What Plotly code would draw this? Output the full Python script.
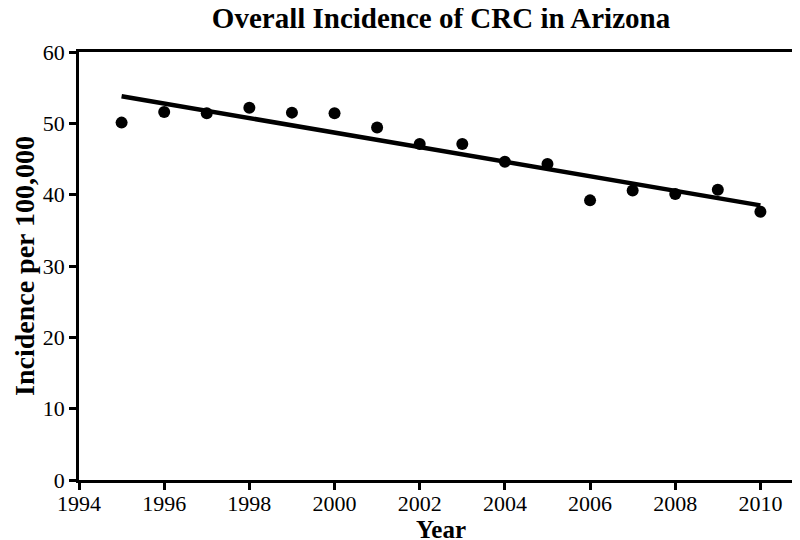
import plotly.graph_objects as go

years = [1995, 1996, 1997, 1998, 1999, 2000, 2001, 2002, 2003, 2004, 2005, 2006, 2007, 2008, 2009, 2010]
incidence = [50.1, 51.6, 51.4, 52.2, 51.5, 51.4, 49.4, 47.1, 47.1, 44.6, 44.3, 39.2, 40.6, 40.1, 40.7, 37.6]

# fitted trend line, endpoints
trend_years = [1995, 2010]
trend_values = [53.8, 38.5]

font = "Liberation Serif, Times New Roman, serif"

fig = go.Figure()
fig.add_trace(go.Scatter(x=trend_years, y=trend_values, mode="lines",
                         line=dict(color="black", width=4.5), showlegend=False))
fig.add_trace(go.Scatter(x=years, y=incidence, mode="markers",
                         marker=dict(color="black", size=12), showlegend=False))

fig.update_layout(
    width=800, height=540,
    margin=dict(l=71, r=2, t=44, b=68),
    paper_bgcolor="white", plot_bgcolor="white",
    font=dict(family=font, color="black", size=22),
    title=dict(text="<b>Overall Incidence of CRC in Arizona</b>", xref="paper", x=0.5, xanchor="center",
               y=1, yanchor="top", font=dict(size=29, family=font)),
)
fig.update_xaxes(range=[1994, 2011], tickvals=list(range(1994, 2011, 2)),
                 showline=True, linewidth=2.5, linecolor="black", mirror=True,
                 ticks="outside", ticklen=7, tickwidth=2.5, tickcolor="black",
                 ticklabelstandoff=-5,
                 showgrid=False, zeroline=False,
                 title=dict(text="<b>Year</b>", font=dict(size=25, family=font), standoff=0))
fig.update_yaxes(range=[0, 60], dtick=10,
                 showline=True, linewidth=2.5, linecolor="black", mirror=True,
                 ticks="outside", ticklen=7, tickwidth=2.5, tickcolor="black",
                 showgrid=False, zeroline=False)

# y title as annotation so it sits right at the left edge
fig.add_annotation(text="<b>Incidence per 100,000</b>", textangle=-90,
                   xref="paper", yref="paper", x=0, y=0.5, xshift=-55,
                   xanchor="center", yanchor="middle", showarrow=False,
                   font=dict(size=28, family=font))

fig.write_html("out.html")
